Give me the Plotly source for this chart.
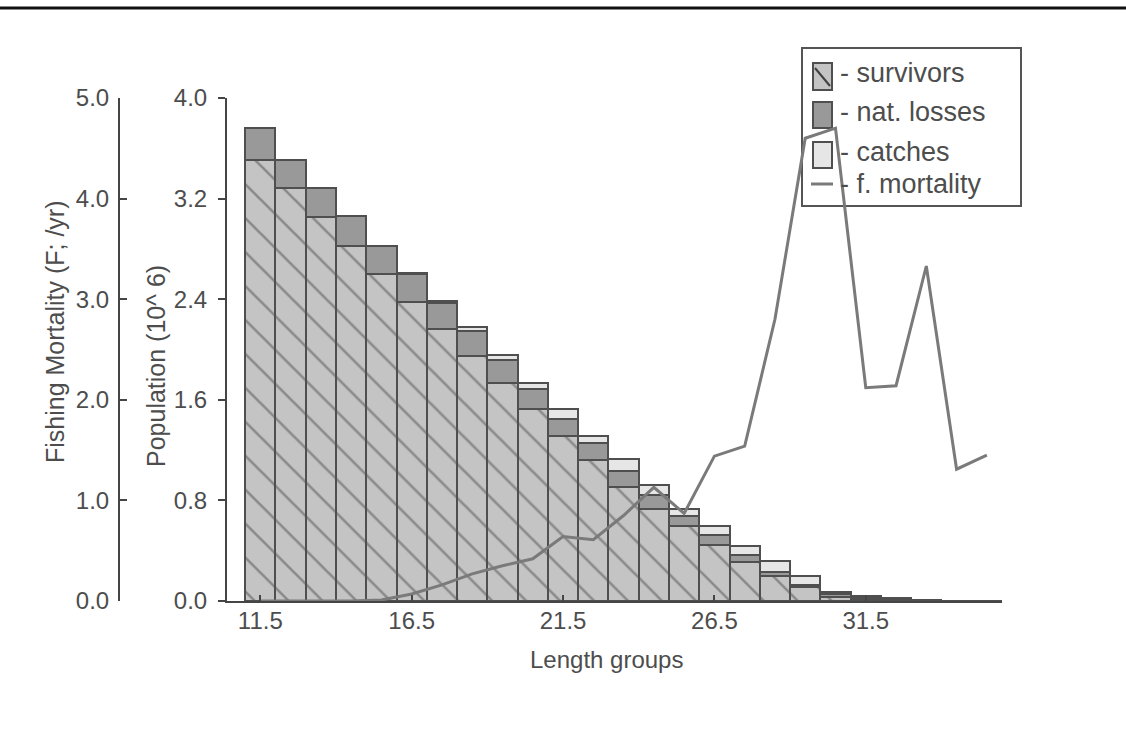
import plotly.graph_objects as go

# ---------------- data ----------------
length_groups = [11.5, 12.5, 13.5, 14.5, 15.5, 16.5, 17.5, 18.5, 19.5, 20.5,
                 21.5, 22.5, 23.5, 24.5, 25.5, 26.5, 27.5, 28.5, 29.5, 30.5,
                 31.5, 32.5, 33.5, 34.5, 35.5]
survivors = [3.510, 3.284, 3.053, 2.827, 2.604, 2.381, 2.166, 1.945, 1.736, 1.528,
             1.312, 1.124, 0.909, 0.728, 0.598, 0.449, 0.313, 0.196, 0.108, 0.035,
             0.015, 0.006, 0.002, 0.001, 0.000]
nat_losses = [0.255, 0.223, 0.233, 0.231, 0.220, 0.219, 0.205, 0.199, 0.177, 0.159,
              0.138, 0.136, 0.125, 0.112, 0.080, 0.072, 0.054, 0.035, 0.022, 0.018,
              0.017, 0.010, 0.003, 0.001, 0.000]
catches = [0.000, 0.000, 0.000, 0.000, 0.000, 0.008, 0.015, 0.035, 0.042, 0.046,
           0.080, 0.055, 0.095, 0.085, 0.053, 0.074, 0.074, 0.085, 0.066, 0.019,
           0.010, 0.005, 0.001, 0.000, 0.000]
f_mortality = [0.0, 0.0, 0.0, 0.0, 0.01, 0.07, 0.16, 0.27, 0.35, 0.42,
               0.64, 0.61, 0.85, 1.13, 0.87, 1.44, 1.54, 2.80, 4.60, 4.70,
               2.12, 2.14, 3.33, 1.31, 1.45]
x_tick_vals = [11.5, 16.5, 21.5, 26.5, 31.5]
x_tick_text = ["11.5", "16.5", "21.5", "26.5", "31.5"]
pop_tick_vals = [0.0, 0.8, 1.6, 2.4, 3.2, 4.0]
f_tick_vals = [0.0, 1.0, 2.0, 3.0, 4.0, 5.0]
legend_labels = ["- survivors", "- nat. losses", "- catches", "- f. mortality"]

# ---------------- style ----------------
W, H = 1126, 729
FONT = "Liberation Sans, Arial, sans-serif"
TXT = "#4d4d4d"
AX = "#454545"
EDGE = "#4f4f4f"
C_SURV = "#c4c4c4"
C_NAT = "#999999"
C_CATCH = "#e6e6e6"
C_LINE = "#7a7a7a"


def px(x):
    return x / W


def py(y):
    return 1 - y / H


X0, X1 = 227, 1002
Y0, Y1 = 98, 601

fig = go.Figure()
fig.add_trace(go.Bar(
    x=length_groups, y=survivors, name="survivors", width=1.0,
    marker=dict(color=C_SURV, line=dict(color=EDGE, width=2),
                pattern=dict(shape="\\", fgcolor="#505050", bgcolor=C_SURV,
                             size=24, solidity=0.11)),
    showlegend=False))
fig.add_trace(go.Bar(
    x=length_groups, y=nat_losses, name="nat. losses", width=1.0,
    marker=dict(color=C_NAT, line=dict(color=EDGE, width=2)),
    showlegend=False))
fig.add_trace(go.Bar(
    x=length_groups, y=catches, name="catches", width=1.0,
    marker=dict(color=C_CATCH, line=dict(color=EDGE, width=2)),
    showlegend=False))
fig.add_trace(go.Scatter(
    x=length_groups, y=f_mortality, name="f. mortality", yaxis="y2",
    mode="lines", line=dict(color=C_LINE, width=3), showlegend=False))

fig.update_layout(
    width=W, height=H, autosize=False,
    margin=dict(l=0, r=0, t=0, b=0, pad=0, autoexpand=False),
    paper_bgcolor="white", plot_bgcolor="rgba(0,0,0,0)",
    barmode="stack", bargap=0,
    font=dict(family=FONT, color=TXT, size=24),
    xaxis=dict(domain=[px(X0), px(X1)], range=[10.4, 36.0],
               tickvals=x_tick_vals, ticktext=x_tick_text,
               ticks="inside", ticklen=6, tickcolor=AX, tickwidth=2,
               showline=True, linecolor=AX, linewidth=2,
               showgrid=False, zeroline=False, automargin=False,
               tickfont=dict(size=24, color=TXT), ticklabelstandoff=-3),
    yaxis=dict(domain=[py(Y1), py(Y0)], range=[0, 4.0],
               tickvals=pop_tick_vals, tickformat=".1f",
               ticks="outside", ticklen=7, tickcolor=AX, tickwidth=2,
               showline=True, linecolor=AX, linewidth=2,
               showgrid=False, zeroline=False, automargin=False,
               tickfont=dict(size=24, color=TXT), ticklabelstandoff=6),
    yaxis2=dict(overlaying="y", anchor="free", side="left", position=px(119),
                range=[0, 5.0], tickvals=f_tick_vals, tickformat=".1f",
                ticks="inside", ticklen=7, tickcolor=AX, tickwidth=2,
                showline=True, linecolor=AX, linewidth=2,
                showgrid=False, zeroline=False, automargin=False,
                tickfont=dict(size=24, color=TXT), ticklabelstandoff=4),
)

shapes = []
annotations = []

# top scan rule
shapes.append(dict(type="line", xref="paper", yref="paper",
                   x0=0, x1=1, y0=py(8), y1=py(8),
                   line=dict(color="#111111", width=3)))

# axis titles
annotations.append(dict(xref="paper", yref="paper", x=px(606), y=py(659),
                        xanchor="center", yanchor="middle",
                        text="Length groups", showarrow=False,
                        font=dict(size=24, color=TXT)))
annotations.append(dict(xref="paper", yref="paper", x=px(156), y=py(366),
                        xanchor="center", yanchor="middle",
                        text="Population (10^ 6)", textangle=-90, showarrow=False,
                        font=dict(size=25, color=TXT)))
annotations.append(dict(xref="paper", yref="paper", x=px(55), y=py(332),
                        xanchor="center", yanchor="middle",
                        text="Fishing Mortality (F; /yr)", textangle=-90,
                        showarrow=False, font=dict(size=25, color=TXT)))

# legend box (drawn below the traces so the line passes over it)
shapes.append(dict(type="rect", xref="paper", yref="paper", layer="below",
                   x0=px(802), x1=px(1021), y0=py(206), y1=py(48),
                   line=dict(color="#555555", width=2), fillcolor="white"))
sw_x0, sw_x1 = 813, 832
swatches = [(63, 90, C_SURV), (102, 128, C_NAT), (142, 168, C_CATCH)]
for (ya, yb, col) in swatches:
    shapes.append(dict(type="rect", xref="paper", yref="paper", layer="below",
                       x0=px(sw_x0), x1=px(sw_x1), y0=py(yb), y1=py(ya),
                       line=dict(color=EDGE, width=2), fillcolor=col))
shapes.append(dict(type="line", xref="paper", yref="paper", layer="below",
                   x0=px(815), x1=px(830), y0=py(68), y1=py(86),
                   line=dict(color="#404040", width=2)))
shapes.append(dict(type="line", xref="paper", yref="paper", layer="below",
                   x0=px(811), x1=px(833), y0=py(184), y1=py(184),
                   line=dict(color=C_LINE, width=3)))
label_y = [73, 112, 152, 184]
for lab, yy in zip(legend_labels, label_y):
    annotations.append(dict(xref="paper", yref="paper", x=px(838), y=py(yy),
                            xanchor="left", yanchor="middle", text=lab,
                            showarrow=False, font=dict(size=27, color=TXT)))

fig.update_layout(shapes=shapes, annotations=annotations)
fig.write_html("out.html",
               config={"displayModeBar": False},
               post_script="document.body.style.margin='0px';"
                           "document.body.style.padding='0px';")
